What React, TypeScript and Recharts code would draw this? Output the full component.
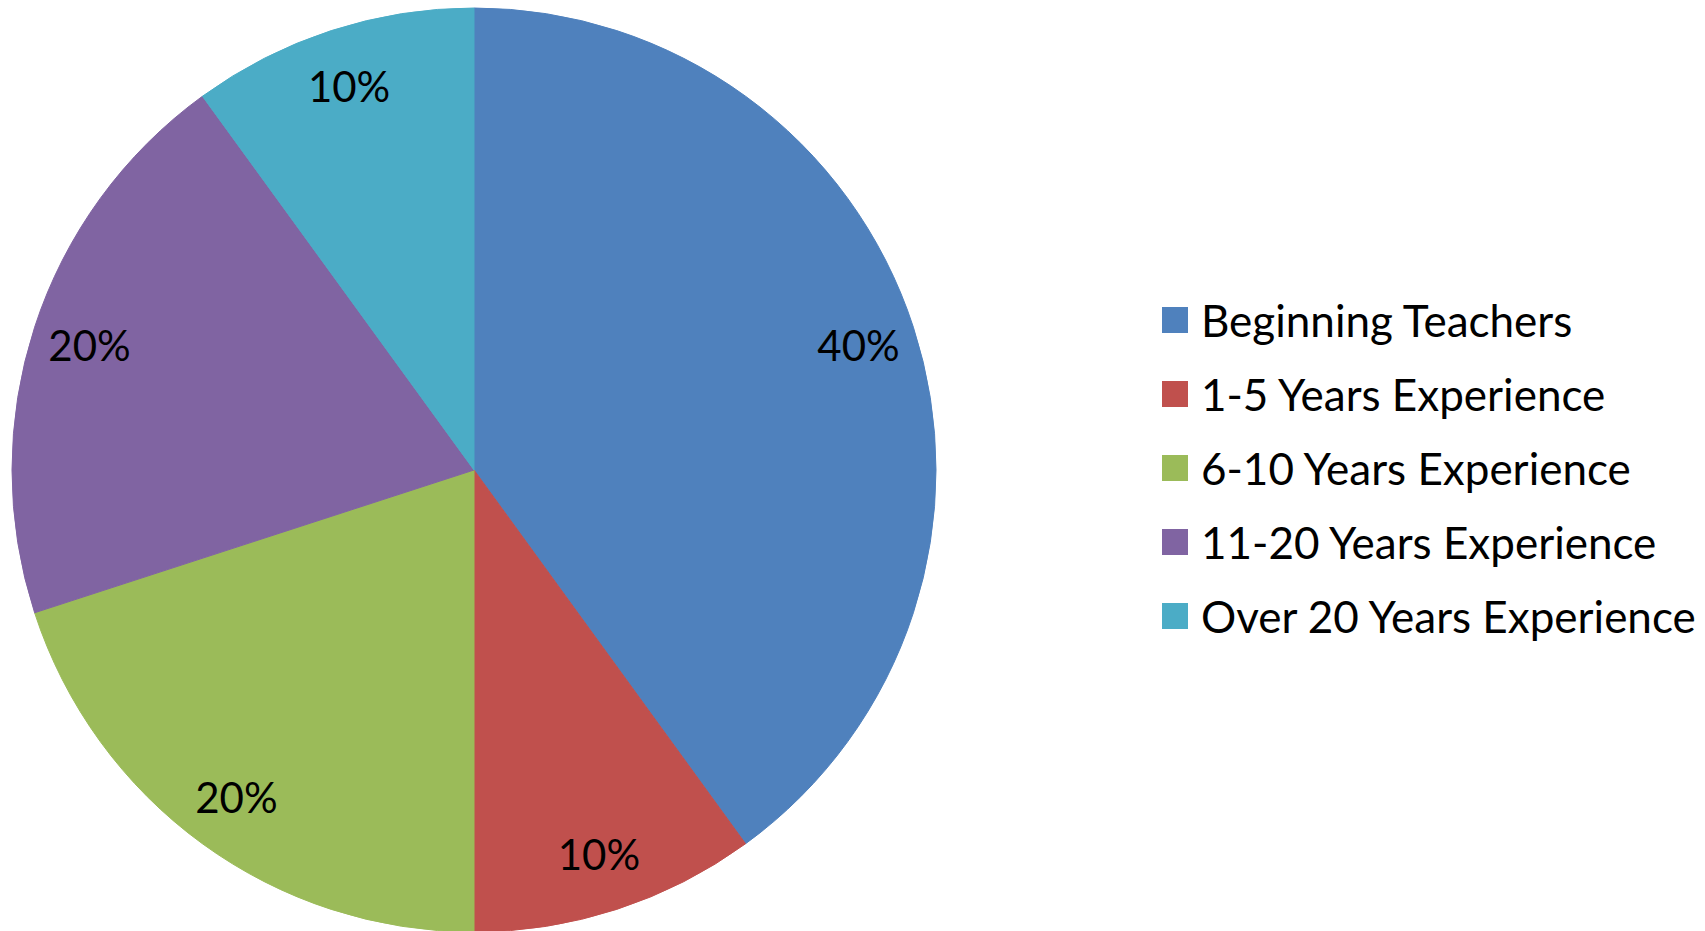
import { PieChart, Pie, Cell, Legend } from 'recharts'

const CATEGORIES = [
  'Beginning Teachers',
  '1-5 Years Experience',
  '6-10 Years Experience',
  '11-20 Years Experience',
  'Over 20 Years Experience',
]
const SHARES = [40, 10, 20, 20, 10]
const COLORS = ['#4F81BD', '#C0504D', '#9BBB59', '#8064A2', '#4BACC6']

const FONT = 'Lato, "Open Sans", sans-serif'
const RADIAN = Math.PI / 180

const chartData = CATEGORIES.map((name, i) => ({ name, value: SHARES[i] }))

function renderLabel(props: any) {
  const { cx, cy, midAngle, outerRadius, percent } = props
  const r = outerRadius * 0.875
  const x = cx + r * Math.cos(-midAngle * RADIAN)
  const y = cy + r * Math.sin(-midAngle * RADIAN)
  return (
    <text
      x={x}
      y={y}
      fill="#000"
      textAnchor="middle"
      dominantBaseline="central"
      fontSize={42}
      fontFamily={FONT}
    >
      {`${Math.round((percent || 0) * 100)}%`}
    </text>
  )
}

// keep the legend in data order (recharts sorts the payload by default)
function renderLegend() {
  return (
    <div style={{ fontFamily: FONT, fontSize: 44, color: '#000' }}>
      {CATEGORIES.map((name, i) => (
        <div
          key={`legend-${i}`}
          style={{ display: 'flex', alignItems: 'center', height: 74, whiteSpace: 'nowrap' }}
        >
          <span
            style={{
              display: 'inline-block',
              width: 26,
              height: 26,
              background: COLORS[i],
              marginRight: 13,
            }}
          />
          <span>{name}</span>
        </div>
      ))}
    </div>
  )
}

export default function App() {
  return (
    <div style={{ position: 'absolute', left: 0, top: 0, background: '#fff' }}>
      <PieChart width={1705} height={931} margin={{ top: 0, right: 0, bottom: 0, left: 0 }}>
        <Pie
          data={chartData}
          dataKey="value"
          nameKey="name"
          cx={474}
          cy={470}
          outerRadius={462}
          startAngle={90}
          endAngle={-270}
          labelLine={false}
          label={renderLabel}
          isAnimationActive={false}
        >
          {chartData.map((entry, index) => (
            <Cell key={`cell-${index}`} fill={COLORS[index]} stroke={COLORS[index]} />
          ))}
        </Pie>
        <Legend
          layout="vertical"
          content={renderLegend}
          wrapperStyle={{ left: 1162, top: 283, width: 543 }}
        />
      </PieChart>
    </div>
  )
}
